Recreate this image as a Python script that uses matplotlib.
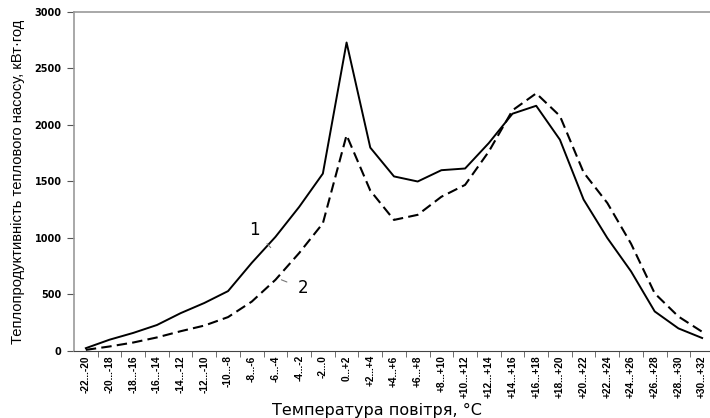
import matplotlib
matplotlib.use("Agg")
import matplotlib.pyplot as plt

plt.rcParams['font.family'] = ['Liberation Sans', 'DejaVu Sans']

categories = ["-22...-20", "-20...-18", "-18...-16", "-16...-14", "-14...-12",
              "-12...-10", "-10...-8", "-8...-6", "-6...-4", "-4...-2", "-2...0",
              "0...+2", "+2...+4", "+4...+6", "+6...+8", "+8...+10", "+10...+12",
              "+12...+14", "+14...+16", "+16...+18", "+18...+20", "+20...+22",
              "+22...+24", "+24...+26", "+26...+28", "+28...+30", "+30...+32"]

# curve 1 (solid) and curve 2 (dashed), kW*h
series1 = [25, 100, 160, 230, 335, 425, 530, 780, 1010, 1275, 1570,
           2730, 1800, 1545, 1500, 1600, 1615, 1840, 2100, 2170, 1870,
           1340, 1000, 705, 350, 200, 115]
series2 = [10, 40, 75, 120, 175, 225, 300, 437, 630, 867, 1130,
           1910, 1420, 1160, 1205, 1365, 1470, 1765, 2130, 2280, 2080,
           1580, 1310, 950, 510, 305, 170]

x = list(range(len(categories)))

fig = plt.figure(figsize=(7.1, 4.18), dpi=100)
ax = fig.add_axes([0.1042, 0.1603, 0.9014, 0.811])

ax.plot(x, series1, color='black', lw=1.4, solid_joinstyle='round')
ax.plot(x, series2, color='black', lw=1.5, dashes=(5, 2.5))

ax.set_xlim(-0.5, len(categories) - 0.5)
ax.set_ylim(0, 3000)
ax.set_yticks(range(0, 3001, 500))
ax.set_xticks(x)
ax.set_xticklabels(categories, rotation=90, fontsize=7.3, fontweight='bold')
ax.set_xticks([i + 0.5 for i in x[:-1]], minor=True)
ax.tick_params(axis='x', which='major', length=0, pad=3)
ax.tick_params(axis='x', which='minor', length=4, direction='out', color='#555555')
ax.tick_params(axis='y', length=5, direction='out', color='#555555', pad=4)
for lab in ax.get_yticklabels():
    lab.set_fontfamily('DejaVu Sans')
    lab.set_fontweight('bold')
    lab.set_fontsize(7)

for s in ['top', 'left']:
    ax.spines[s].set_color('#999999')
    ax.spines[s].set_linewidth(1.2)
ax.spines['bottom'].set_color('#444444')
ax.spines['right'].set_visible(False)

ax.set_xlabel("Температура повітря, °С", fontsize=11.5, family='DejaVu Sans')
ax.xaxis.set_label_coords(0.473, -0.152)
ax.set_ylabel("Теплопродуктивність теплового насосу, кВт·год", fontsize=10.6)
ax.yaxis.set_label_coords(-0.077, 0.5)

# curve labels with leader lines
ax.annotate("1", xy=(7.8, 915), xytext=(7.1, 1070), fontsize=12, family='DejaVu Sans',
            ha='center', va='center',
            arrowprops=dict(arrowstyle='-', color='#777777', lw=0.8, shrinkA=5, shrinkB=0))
ax.annotate("2", xy=(8.25, 630), xytext=(9.15, 555), fontsize=12, family='DejaVu Sans',
            ha='center', va='center',
            arrowprops=dict(arrowstyle='-', color='#777777', lw=0.8, shrinkA=6, shrinkB=0))

fig.savefig("out.png", dpi=100)
